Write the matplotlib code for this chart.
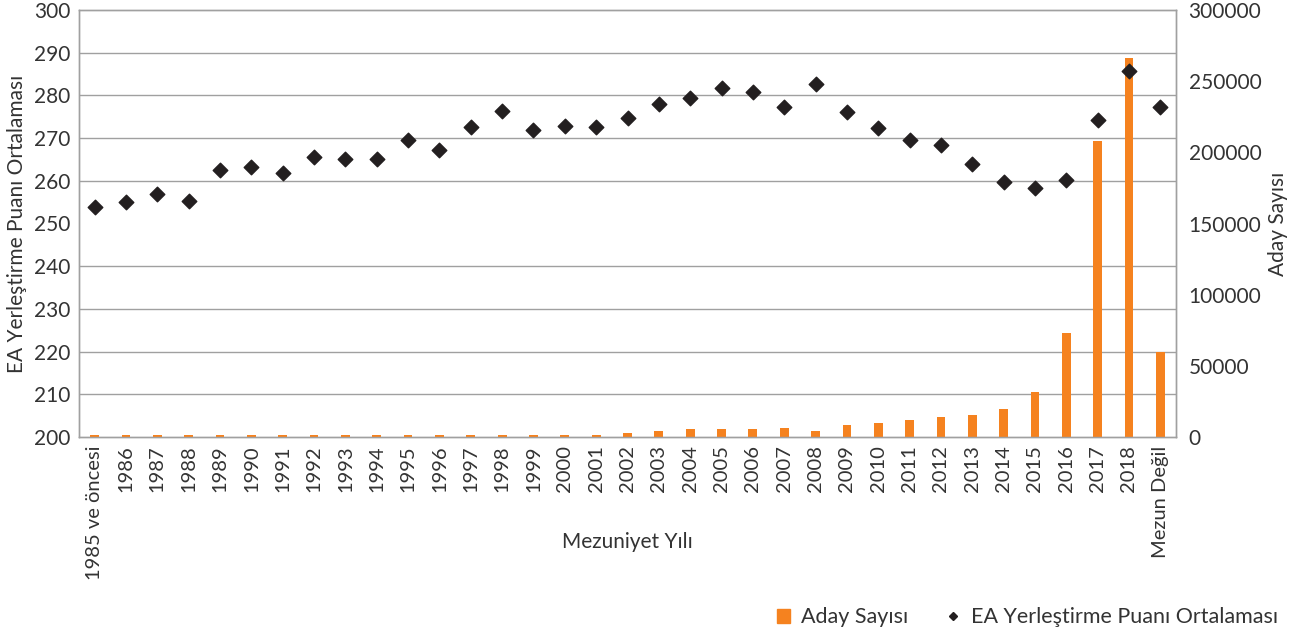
import numpy as np
import matplotlib
matplotlib.use("Agg")
import matplotlib.pyplot as plt
from matplotlib.lines import Line2D
from matplotlib.patches import Patch

plt.rcParams['font.family'] = ['Lato', 'DejaVu Sans']

# === Data ===
categories = ["1985 ve öncesi"] + [str(y) for y in range(1986, 2019)] + ["Mezun Değil"]
aday_sayisi = [1500, 1500, 1500, 1500, 1500, 1500, 1500, 1500, 1500, 1500,
               1500, 1500, 1500, 1500, 1500, 1500, 1500, 3000, 4200, 5400,
               5400, 5400, 6300, 4200, 8200, 10100, 11900, 13800, 15700, 19700,
               31600, 72900, 208000, 266000, 59700]
ea_puan = [253.8, 255.0, 256.9, 255.3, 262.5, 263.2, 261.9, 265.6, 265.0, 265.0,
           269.5, 267.3, 272.6, 276.3, 271.9, 272.9, 272.5, 274.8, 278.1, 279.5,
           281.7, 280.7, 277.2, 282.6, 276.0, 272.3, 269.5, 268.5, 263.9, 259.8,
           258.2, 260.3, 274.2, 285.7, 277.2]

orange = "#F5821F"
dark = "#231F20"
gridc = "#A0A0A0"
textc = "#333333"

x = np.arange(len(categories))

fig = plt.figure(figsize=(13.01, 6.39), dpi=100)
ax = fig.add_axes([79/1301, 1-437/639, (1176-79)/1301, (437-10)/639])
ax2 = ax.twinx()

# bars on the right axis (behind), diamonds on the left axis (front)
ax.set_zorder(ax2.get_zorder() + 1)
ax.patch.set_visible(False)

ax2.bar(x, aday_sayisi, width=0.28, color=orange, zorder=3)
ax2.set_ylim(0, 300000)
ax2.set_yticks(np.arange(0, 300001, 50000))
# grid lines drawn on the back axis so the bars sit on top of them
ax2.set_yticks(np.arange(0, 300001, 30000), minor=True)
ax2.set_xticks(np.arange(0.5, len(categories) - 1, 1), minor=True)
ax2.grid(which="minor", color=gridc, linewidth=1)
ax2.set_axisbelow(True)
ax2.tick_params(which="both", length=0)
ax2.tick_params(axis="y", labelsize=15, labelcolor=textc, pad=9)
ax2.set_ylabel("Aday Sayısı", fontsize=15, color=textc, labelpad=5)

ax.scatter(x, ea_puan, marker="D", s=55, color=dark, zorder=5)
ax.set_ylim(200, 300)
ax.set_yticks(np.arange(200, 301, 10))
ax.set_xlim(-0.5, len(categories) - 0.5)
ax.set_xticks(x)
ax.set_xticklabels(categories, rotation=90)
ax.tick_params(which="both", length=0)
ax.tick_params(axis="y", labelsize=15, labelcolor=textc, pad=6)
ax.tick_params(axis="x", labelsize=14.5, labelcolor=textc, pad=6)
ax.set_ylabel("EA Yerleştirme Puanı Ortalaması", fontsize=15, color=textc, labelpad=5)
ax.set_xlabel("Mezuniyet Yılı", fontsize=15, color=textc)
ax.xaxis.set_label_coords(0.5, -0.222)

for a in (ax, ax2):
    for s in a.spines.values():
        s.set_color(gridc)
        s.set_linewidth(1)

handles = [Patch(color=orange, label="Aday Sayısı"),
           Line2D([], [], marker="D", linestyle="none", color=dark, markersize=4.5,
                  label="EA Yerleştirme Puanı Ortalaması")]
fig.legend(handles=handles, loc="lower right", bbox_to_anchor=(0.997, -0.012), ncol=2,
           frameon=False, fontsize=15.5, handlelength=0.6, handleheight=0.6,
           handletextpad=0.5, columnspacing=1.8, labelcolor=textc)

fig.savefig("out.png", dpi=100)
